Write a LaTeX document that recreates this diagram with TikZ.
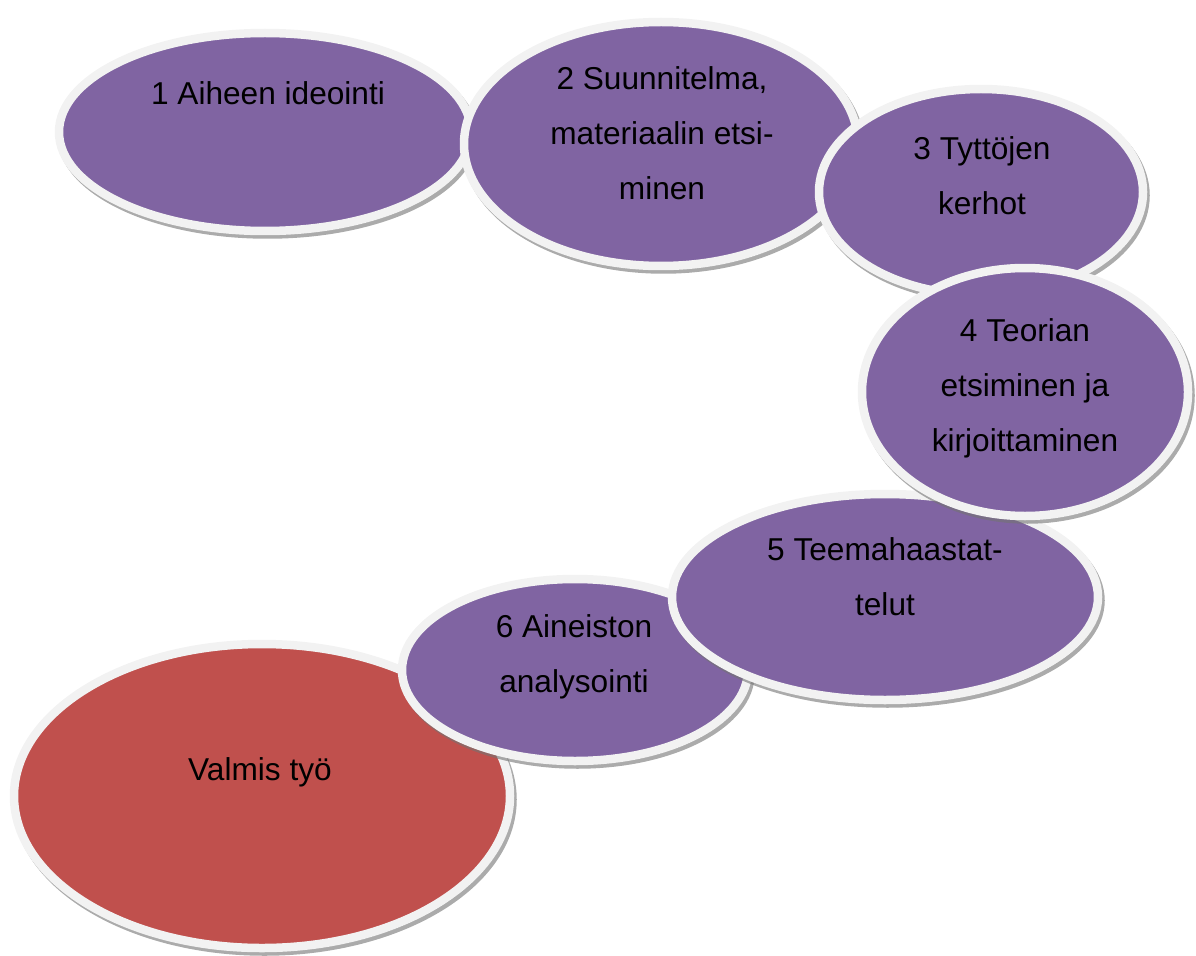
\documentclass[tikz,border=0pt]{standalone}
\usepackage{fontspec}
\setmainfont{Liberation Sans}
\usetikzlibrary{shapes.geometric,shadows}
\definecolor{stepviolet}{HTML}{8064A2}
\definecolor{stepred}{HTML}{C0504D}
\definecolor{stepedge}{HTML}{F2F2F2}
\tikzset{
  blob/.style={ellipse, inner sep=0pt, fill=stepviolet, draw=stepedge, line width=0.17cm,
    drop shadow={shadow xshift=0.05cm, shadow yshift=-0.07cm, draw=black!55, fill=black!55,
      line width=0.17cm, opacity=0.6}},
  steptext/.style={align=center, font=\fontsize{18}{31.3}\selectfont}
}
\begin{document}
\begin{tikzpicture}[x=0.02cm, y=-0.02cm]
    \useasboundingbox (0,0) rectangle (1196,956);

% ellipses, back to front
\node[blob, fill=stepred, minimum width=496*0.02cm, minimum height=304*0.02cm] (valmis) at (262,796) {};
\node[blob, minimum width=346*0.02cm, minimum height=182*0.02cm] (e6) at (575,670) {};
\node[blob, minimum width=426*0.02cm, minimum height=206*0.02cm] (e5) at (885,597) {};
\node[blob, minimum width=412*0.02cm, minimum height=198*0.02cm] (e1) at (265,132) {};
\node[blob, minimum width=394*0.02cm, minimum height=244*0.02cm] (e2) at (661,144) {};
\node[blob, minimum width=324*0.02cm, minimum height=206*0.02cm] (e3) at (981,192) {};
\node[blob, minimum width=326*0.02cm, minimum height=248*0.02cm] (e4) at (1025,392) {};

% labels
\node[steptext] (t1) at (268,93) {1 Aiheen ideointi};
\node[steptext] (t2) at (662,133) {2 Suunnitelma,\\materiaalin etsi-\\minen};
\node[steptext] (t3) at (982,176) {3 Tyttöjen\\kerhot};
\node[steptext] (t4) at (1025,388) {4 Teorian\\etsiminen ja\\kirjoittaminen};
\node[steptext] (t5) at (885,577) {5 Teemahaastat-\\telut};
\node[steptext] (t6) at (574,657) {6 Aineiston\\analysointi};
\node[steptext] (tv) at (260,772) {Valmis työ};

\end{tikzpicture}
\end{document}
